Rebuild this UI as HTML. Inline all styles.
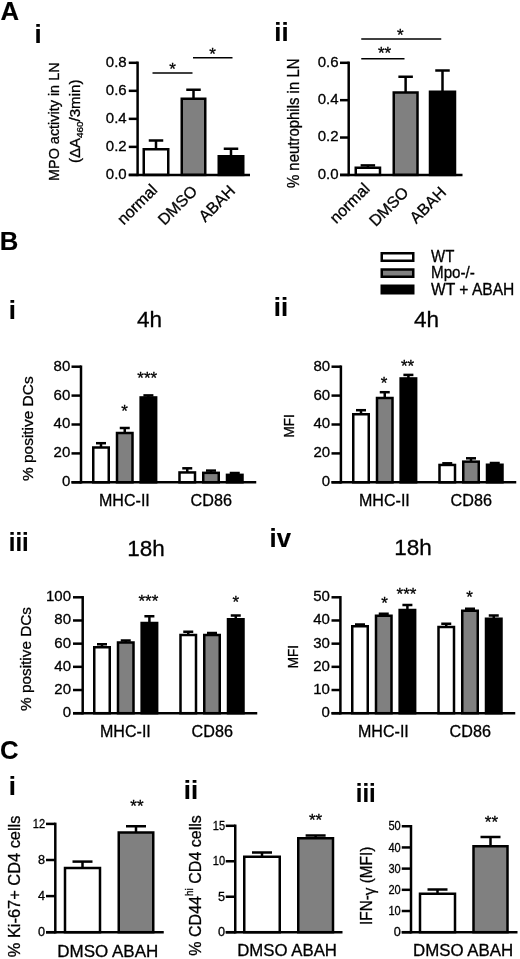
<!DOCTYPE html>
<html><head><meta charset="utf-8"><title>Figure</title>
<style>
html,body{margin:0;padding:0;background:#fff;}
svg{display:block;filter:blur(0.35px);}
text{font-family:"Liberation Sans",Arial,sans-serif;fill:#000;stroke:#000;stroke-width:0.3px;}
text[font-weight=bold]{stroke-width:0.15px;}
</style></head><body>
<svg width="520" height="959" viewBox="0 0 520 959">
<rect x="0" y="0" width="520" height="959" fill="#fff"/>
<text x="0.6" y="19.7" font-size="25.7" font-weight="bold">A</text>
<text x="-0.3" y="249.7" font-size="25.7" font-weight="bold">B</text>
<text x="0.1" y="758.9" font-size="25.7" font-weight="bold">C</text>
<text x="34.6" y="42.5" font-size="25.7" font-weight="bold">i</text>
<line x1="137.6" y1="61.55" x2="137.6" y2="176.15" stroke="#000" stroke-width="2.5"/>
<line x1="128.75" y1="62.8" x2="137.6" y2="62.8" stroke="#000" stroke-width="2.5"/>
<text x="126.7" y="66.7" font-size="15" text-anchor="end">0.8</text>
<line x1="128.75" y1="90.83" x2="137.6" y2="90.83" stroke="#000" stroke-width="2.5"/>
<text x="126.7" y="94.73" font-size="15" text-anchor="end">0.6</text>
<line x1="128.75" y1="118.85" x2="137.6" y2="118.85" stroke="#000" stroke-width="2.5"/>
<text x="126.7" y="122.75" font-size="15" text-anchor="end">0.4</text>
<line x1="128.75" y1="146.88" x2="137.6" y2="146.88" stroke="#000" stroke-width="2.5"/>
<text x="126.7" y="150.78" font-size="15" text-anchor="end">0.2</text>
<line x1="128.75" y1="174.9" x2="137.6" y2="174.9" stroke="#000" stroke-width="2.5"/>
<text x="126.7" y="178.8" font-size="15" text-anchor="end">0.0</text>
<line x1="156" y1="140.5" x2="156" y2="149.25" stroke="#000" stroke-width="2.5"/>
<line x1="148.75" y1="140.5" x2="163.25" y2="140.5" stroke="#000" stroke-width="2.5"/>
<rect x="143.75" y="149.25" width="24.5" height="25.65" fill="#fff" stroke="#000" stroke-width="2.5"/>
<line x1="193.5" y1="89.75" x2="193.5" y2="98.75" stroke="#000" stroke-width="2.5"/>
<line x1="186.25" y1="89.75" x2="200.75" y2="89.75" stroke="#000" stroke-width="2.5"/>
<rect x="181.75" y="98.75" width="23.5" height="76.15" fill="#808080" stroke="#000" stroke-width="2.5"/>
<line x1="231" y1="148.75" x2="231" y2="156.25" stroke="#000" stroke-width="2.5"/>
<line x1="223.75" y1="148.75" x2="238.25" y2="148.75" stroke="#000" stroke-width="2.5"/>
<rect x="218.75" y="156.25" width="24.5" height="18.65" fill="#000" stroke="#000" stroke-width="2.5"/>
<line x1="128.75" y1="174.9" x2="250" y2="174.9" stroke="#000" stroke-width="2.5"/>
<line x1="152.5" y1="73" x2="192.5" y2="73" stroke="#000" stroke-width="1.5"/>
<text x="172.5" y="75.44" font-size="17" text-anchor="middle">*</text>
<line x1="193" y1="57.75" x2="232.5" y2="57.75" stroke="#000" stroke-width="1.5"/>
<text x="212.5" y="60.14" font-size="17" text-anchor="middle">*</text>
<text x="59" y="121.7" font-size="15.4" text-anchor="middle" transform="rotate(-90 59 121.7)" textLength="118.5" lengthAdjust="spacingAndGlyphs">MPO activity in LN</text>
<text x="80.4" y="121.3" font-size="14.6" text-anchor="middle" transform="rotate(-90 80.4 121.3)" textLength="83.5" lengthAdjust="spacingAndGlyphs">(ΔA<tspan font-size="9.5" dy="3">460</tspan><tspan dy="-3">/3min)</tspan></text>
<text x="158.35" y="190.9" font-size="16" text-anchor="end" transform="rotate(-45 158.35 190.9)">normal</text>
<text x="198.35" y="192.15" font-size="16" text-anchor="end" transform="rotate(-45 198.35 192.15)">DMSO</text>
<text x="236.1" y="191.9" font-size="16" text-anchor="end" transform="rotate(-45 236.1 191.9)">ABAH</text>
<text x="274.3" y="41" font-size="25.7" font-weight="bold">ii</text>
<line x1="348.7" y1="61.55" x2="348.7" y2="176.15" stroke="#000" stroke-width="2.5"/>
<line x1="340" y1="62.8" x2="348.7" y2="62.8" stroke="#000" stroke-width="2.5"/>
<text x="338.5" y="66.7" font-size="15" text-anchor="end">0.6</text>
<line x1="340" y1="100.17" x2="348.7" y2="100.17" stroke="#000" stroke-width="2.5"/>
<text x="338.5" y="104.07" font-size="15" text-anchor="end">0.4</text>
<line x1="340" y1="137.53" x2="348.7" y2="137.53" stroke="#000" stroke-width="2.5"/>
<text x="338.5" y="141.43" font-size="15" text-anchor="end">0.2</text>
<line x1="340" y1="174.9" x2="348.7" y2="174.9" stroke="#000" stroke-width="2.5"/>
<text x="338.5" y="178.8" font-size="15" text-anchor="end">0.0</text>
<line x1="367.88" y1="165.4" x2="367.88" y2="167.75" stroke="#000" stroke-width="2.5"/>
<line x1="360.62" y1="165.4" x2="375.12" y2="165.4" stroke="#000" stroke-width="2.5"/>
<rect x="355.75" y="167.75" width="24.25" height="7.15" fill="#fff" stroke="#000" stroke-width="2.5"/>
<line x1="405.62" y1="76.75" x2="405.62" y2="92.5" stroke="#000" stroke-width="2.5"/>
<line x1="398.38" y1="76.75" x2="412.88" y2="76.75" stroke="#000" stroke-width="2.5"/>
<rect x="393.75" y="92.5" width="23.75" height="82.4" fill="#808080" stroke="#000" stroke-width="2.5"/>
<line x1="442.5" y1="70.5" x2="442.5" y2="91.75" stroke="#000" stroke-width="2.5"/>
<line x1="435.25" y1="70.5" x2="449.75" y2="70.5" stroke="#000" stroke-width="2.5"/>
<rect x="430" y="91.75" width="25" height="83.15" fill="#000" stroke="#000" stroke-width="2.5"/>
<line x1="340" y1="174.9" x2="462.5" y2="174.9" stroke="#000" stroke-width="2.5"/>
<line x1="361.25" y1="38.9" x2="441.25" y2="38.9" stroke="#000" stroke-width="1.5"/>
<text x="400.4" y="41.19" font-size="17" text-anchor="middle">*</text>
<line x1="361.25" y1="58.75" x2="404.5" y2="58.75" stroke="#000" stroke-width="1.5"/>
<text x="384.6" y="58.94" font-size="17" text-anchor="middle">**</text>
<text x="299.1" y="123.3" font-size="15.6" text-anchor="middle" transform="rotate(-90 299.1 123.3)" textLength="129.6" lengthAdjust="spacingAndGlyphs">% neutrophils in LN</text>
<text x="370.85" y="189.65" font-size="16" text-anchor="end" transform="rotate(-45 370.85 189.65)">normal</text>
<text x="409.6" y="193.4" font-size="16" text-anchor="end" transform="rotate(-45 409.6 193.4)">DMSO</text>
<text x="447.1" y="193.4" font-size="16" text-anchor="end" transform="rotate(-45 447.1 193.4)">ABAH</text>
<rect x="381.75" y="253.25" width="31.5" height="7.5" fill="#fff" stroke="#000" stroke-width="2.5"/>
<rect x="381.75" y="269.5" width="31.5" height="7.25" fill="#808080" stroke="#000" stroke-width="2.5"/>
<rect x="381.75" y="285.75" width="31.5" height="7.5" fill="#000" stroke="#000" stroke-width="2.5"/>
<text x="431" y="262" font-size="16" textLength="23.3" lengthAdjust="spacingAndGlyphs">WT</text>
<text x="431" y="278" font-size="16" textLength="43.9" lengthAdjust="spacingAndGlyphs">Mpo-/-</text>
<text x="431" y="294.5" font-size="16" textLength="83.4" lengthAdjust="spacingAndGlyphs">WT + ABAH</text>
<line x1="81" y1="365.45" x2="81" y2="483.55" stroke="#000" stroke-width="2.5"/>
<line x1="71.5" y1="366.7" x2="81" y2="366.7" stroke="#000" stroke-width="2.5"/>
<text x="70.3" y="370.6" font-size="15" text-anchor="end">80</text>
<line x1="71.5" y1="395.6" x2="81" y2="395.6" stroke="#000" stroke-width="2.5"/>
<text x="70.3" y="399.5" font-size="15" text-anchor="end">60</text>
<line x1="71.5" y1="424.5" x2="81" y2="424.5" stroke="#000" stroke-width="2.5"/>
<text x="70.3" y="428.4" font-size="15" text-anchor="end">40</text>
<line x1="71.5" y1="453.4" x2="81" y2="453.4" stroke="#000" stroke-width="2.5"/>
<text x="70.3" y="457.3" font-size="15" text-anchor="end">20</text>
<line x1="71.5" y1="482.3" x2="81" y2="482.3" stroke="#000" stroke-width="2.5"/>
<text x="70.3" y="486.2" font-size="15" text-anchor="end">0</text>
<line x1="101" y1="443.2" x2="101" y2="447.5" stroke="#000" stroke-width="2.5"/>
<line x1="96" y1="443.2" x2="106" y2="443.2" stroke="#000" stroke-width="2.5"/>
<rect x="93.25" y="447.5" width="15.5" height="34.8" fill="#fff" stroke="#000" stroke-width="2.5"/>
<line x1="124.75" y1="428" x2="124.75" y2="433" stroke="#000" stroke-width="2.5"/>
<line x1="119.75" y1="428" x2="129.75" y2="428" stroke="#000" stroke-width="2.5"/>
<rect x="117" y="433" width="15.5" height="49.3" fill="#808080" stroke="#000" stroke-width="2.5"/>
<line x1="148.4" y1="395.4" x2="148.4" y2="397.45" stroke="#000" stroke-width="2.5"/>
<line x1="143.4" y1="395.4" x2="153.4" y2="395.4" stroke="#000" stroke-width="2.5"/>
<rect x="140.65" y="397.45" width="15.5" height="84.85" fill="#000" stroke="#000" stroke-width="2.5"/>
<line x1="187.25" y1="468.3" x2="187.25" y2="472.45" stroke="#000" stroke-width="2.5"/>
<line x1="182.25" y1="468.3" x2="192.25" y2="468.3" stroke="#000" stroke-width="2.5"/>
<rect x="179.5" y="472.45" width="15.5" height="9.85" fill="#fff" stroke="#000" stroke-width="2.5"/>
<line x1="211" y1="470.6" x2="211" y2="472.85" stroke="#000" stroke-width="2.5"/>
<line x1="206" y1="470.6" x2="216" y2="470.6" stroke="#000" stroke-width="2.5"/>
<rect x="203.25" y="472.85" width="15.5" height="9.45" fill="#808080" stroke="#000" stroke-width="2.5"/>
<line x1="234.75" y1="473" x2="234.75" y2="474.85" stroke="#000" stroke-width="2.5"/>
<line x1="229.75" y1="473" x2="239.75" y2="473" stroke="#000" stroke-width="2.5"/>
<rect x="227" y="474.85" width="15.5" height="7.45" fill="#000" stroke="#000" stroke-width="2.5"/>
<line x1="71.5" y1="482.3" x2="256.25" y2="482.3" stroke="#000" stroke-width="2.5"/>
<text x="124.6" y="416.84" font-size="17" text-anchor="middle">*</text>
<text x="147.25" y="384.24" font-size="17" text-anchor="middle">***</text>
<text x="124.4" y="506.25" font-size="16" text-anchor="middle" textLength="50.8" lengthAdjust="spacingAndGlyphs">MHC-II</text>
<text x="211.25" y="506.25" font-size="16" text-anchor="middle" textLength="41.3" lengthAdjust="spacingAndGlyphs">CD86</text>
<text x="149.6" y="327.1" font-size="22.5" text-anchor="middle">4h</text>
<text x="8.8" y="319.25" font-size="25.7" font-weight="bold">i</text>
<text x="33.3" y="428.7" font-size="15" text-anchor="middle" transform="rotate(-90 33.3 428.7)" textLength="104.6" lengthAdjust="spacingAndGlyphs">% positive DCs</text>
<line x1="340.9" y1="365.45" x2="340.9" y2="483.55" stroke="#000" stroke-width="2.5"/>
<line x1="331.5" y1="366.7" x2="340.9" y2="366.7" stroke="#000" stroke-width="2.5"/>
<text x="330.1" y="370.6" font-size="15" text-anchor="end">80</text>
<line x1="331.5" y1="395.6" x2="340.9" y2="395.6" stroke="#000" stroke-width="2.5"/>
<text x="330.1" y="399.5" font-size="15" text-anchor="end">60</text>
<line x1="331.5" y1="424.5" x2="340.9" y2="424.5" stroke="#000" stroke-width="2.5"/>
<text x="330.1" y="428.4" font-size="15" text-anchor="end">40</text>
<line x1="331.5" y1="453.4" x2="340.9" y2="453.4" stroke="#000" stroke-width="2.5"/>
<text x="330.1" y="457.3" font-size="15" text-anchor="end">20</text>
<line x1="331.5" y1="482.3" x2="340.9" y2="482.3" stroke="#000" stroke-width="2.5"/>
<text x="330.1" y="486.2" font-size="15" text-anchor="end">0</text>
<line x1="361" y1="410.2" x2="361" y2="414.25" stroke="#000" stroke-width="2.5"/>
<line x1="356" y1="410.2" x2="366" y2="410.2" stroke="#000" stroke-width="2.5"/>
<rect x="353.25" y="414.25" width="15.5" height="68.05" fill="#fff" stroke="#000" stroke-width="2.5"/>
<line x1="384.75" y1="392.2" x2="384.75" y2="398" stroke="#000" stroke-width="2.5"/>
<line x1="379.75" y1="392.2" x2="389.75" y2="392.2" stroke="#000" stroke-width="2.5"/>
<rect x="377" y="398" width="15.5" height="84.3" fill="#808080" stroke="#000" stroke-width="2.5"/>
<line x1="408.4" y1="374.9" x2="408.4" y2="378.45" stroke="#000" stroke-width="2.5"/>
<line x1="403.4" y1="374.9" x2="413.4" y2="374.9" stroke="#000" stroke-width="2.5"/>
<rect x="400.65" y="378.45" width="15.5" height="103.85" fill="#000" stroke="#000" stroke-width="2.5"/>
<line x1="447.25" y1="463.3" x2="447.25" y2="464.95" stroke="#000" stroke-width="2.5"/>
<line x1="442.25" y1="463.3" x2="452.25" y2="463.3" stroke="#000" stroke-width="2.5"/>
<rect x="439.5" y="464.95" width="15.5" height="17.35" fill="#fff" stroke="#000" stroke-width="2.5"/>
<line x1="471" y1="458.3" x2="471" y2="461.65" stroke="#000" stroke-width="2.5"/>
<line x1="466" y1="458.3" x2="476" y2="458.3" stroke="#000" stroke-width="2.5"/>
<rect x="463.25" y="461.65" width="15.5" height="20.65" fill="#808080" stroke="#000" stroke-width="2.5"/>
<line x1="494.75" y1="463" x2="494.75" y2="464.75" stroke="#000" stroke-width="2.5"/>
<line x1="489.75" y1="463" x2="499.75" y2="463" stroke="#000" stroke-width="2.5"/>
<rect x="487" y="464.75" width="15.5" height="17.55" fill="#000" stroke="#000" stroke-width="2.5"/>
<line x1="331.5" y1="482.3" x2="516.25" y2="482.3" stroke="#000" stroke-width="2.5"/>
<text x="384" y="388.84" font-size="17" text-anchor="middle">*</text>
<text x="407.6" y="372.44" font-size="17" text-anchor="middle">**</text>
<text x="384.4" y="506.25" font-size="16" text-anchor="middle" textLength="50.8" lengthAdjust="spacingAndGlyphs">MHC-II</text>
<text x="471.25" y="506.25" font-size="16" text-anchor="middle" textLength="41.3" lengthAdjust="spacingAndGlyphs">CD86</text>
<text x="426.6" y="327.1" font-size="22.5" text-anchor="middle">4h</text>
<text x="273.8" y="316.25" font-size="25.7" font-weight="bold">ii</text>
<text x="293.8" y="425.8" font-size="15" text-anchor="middle" transform="rotate(-90 293.8 425.8)" textLength="23.3" lengthAdjust="spacingAndGlyphs">MFI</text>
<line x1="82.7" y1="596.05" x2="82.7" y2="714.45" stroke="#000" stroke-width="2.5"/>
<line x1="73" y1="597.3" x2="82.7" y2="597.3" stroke="#000" stroke-width="2.5"/>
<text x="71" y="601.2" font-size="15" text-anchor="end">100</text>
<line x1="73" y1="620.48" x2="82.7" y2="620.48" stroke="#000" stroke-width="2.5"/>
<text x="71" y="624.38" font-size="15" text-anchor="end">80</text>
<line x1="73" y1="643.66" x2="82.7" y2="643.66" stroke="#000" stroke-width="2.5"/>
<text x="71" y="647.56" font-size="15" text-anchor="end">60</text>
<line x1="73" y1="666.84" x2="82.7" y2="666.84" stroke="#000" stroke-width="2.5"/>
<text x="71" y="670.74" font-size="15" text-anchor="end">40</text>
<line x1="73" y1="690.02" x2="82.7" y2="690.02" stroke="#000" stroke-width="2.5"/>
<text x="71" y="693.92" font-size="15" text-anchor="end">20</text>
<line x1="73" y1="713.2" x2="82.7" y2="713.2" stroke="#000" stroke-width="2.5"/>
<text x="71" y="717.1" font-size="15" text-anchor="end">0</text>
<line x1="102" y1="644.25" x2="102" y2="647.25" stroke="#000" stroke-width="2.5"/>
<line x1="97" y1="644.25" x2="107" y2="644.25" stroke="#000" stroke-width="2.5"/>
<rect x="94.25" y="647.25" width="15.5" height="65.95" fill="#fff" stroke="#000" stroke-width="2.5"/>
<line x1="125.75" y1="640.5" x2="125.75" y2="642.5" stroke="#000" stroke-width="2.5"/>
<line x1="120.75" y1="640.5" x2="130.75" y2="640.5" stroke="#000" stroke-width="2.5"/>
<rect x="118" y="642.5" width="15.5" height="70.7" fill="#808080" stroke="#000" stroke-width="2.5"/>
<line x1="149.4" y1="616.25" x2="149.4" y2="623" stroke="#000" stroke-width="2.5"/>
<line x1="144.4" y1="616.25" x2="154.4" y2="616.25" stroke="#000" stroke-width="2.5"/>
<rect x="141.65" y="623" width="15.5" height="90.2" fill="#000" stroke="#000" stroke-width="2.5"/>
<line x1="188.25" y1="631.75" x2="188.25" y2="635" stroke="#000" stroke-width="2.5"/>
<line x1="183.25" y1="631.75" x2="193.25" y2="631.75" stroke="#000" stroke-width="2.5"/>
<rect x="180.5" y="635" width="15.5" height="78.2" fill="#fff" stroke="#000" stroke-width="2.5"/>
<line x1="212" y1="633" x2="212" y2="635" stroke="#000" stroke-width="2.5"/>
<line x1="207" y1="633" x2="217" y2="633" stroke="#000" stroke-width="2.5"/>
<rect x="204.25" y="635" width="15.5" height="78.2" fill="#808080" stroke="#000" stroke-width="2.5"/>
<line x1="235.75" y1="615.5" x2="235.75" y2="619.25" stroke="#000" stroke-width="2.5"/>
<line x1="230.75" y1="615.5" x2="240.75" y2="615.5" stroke="#000" stroke-width="2.5"/>
<rect x="228" y="619.25" width="15.5" height="93.95" fill="#000" stroke="#000" stroke-width="2.5"/>
<line x1="73" y1="713.2" x2="257.25" y2="713.2" stroke="#000" stroke-width="2.5"/>
<text x="148.4" y="607.14" font-size="17" text-anchor="middle">***</text>
<text x="235.9" y="608.44" font-size="17" text-anchor="middle">*</text>
<text x="125.4" y="737" font-size="16" text-anchor="middle" textLength="50.8" lengthAdjust="spacingAndGlyphs">MHC-II</text>
<text x="212.25" y="737" font-size="16" text-anchor="middle" textLength="41.3" lengthAdjust="spacingAndGlyphs">CD86</text>
<text x="145.9" y="555.85" font-size="22.5" text-anchor="middle">18h</text>
<text x="8.8" y="550.5" font-size="25.7" font-weight="bold" textLength="20" lengthAdjust="spacingAndGlyphs">iii</text>
<text x="31.2" y="659" font-size="15" text-anchor="middle" transform="rotate(-90 31.2 659)" textLength="104" lengthAdjust="spacingAndGlyphs">% positive DCs</text>
<line x1="340.4" y1="596.05" x2="340.4" y2="714.45" stroke="#000" stroke-width="2.5"/>
<line x1="331.5" y1="597.3" x2="340.4" y2="597.3" stroke="#000" stroke-width="2.5"/>
<text x="329.9" y="601.2" font-size="15" text-anchor="end">50</text>
<line x1="331.5" y1="620.48" x2="340.4" y2="620.48" stroke="#000" stroke-width="2.5"/>
<text x="329.9" y="624.38" font-size="15" text-anchor="end">40</text>
<line x1="331.5" y1="643.66" x2="340.4" y2="643.66" stroke="#000" stroke-width="2.5"/>
<text x="329.9" y="647.56" font-size="15" text-anchor="end">30</text>
<line x1="331.5" y1="666.84" x2="340.4" y2="666.84" stroke="#000" stroke-width="2.5"/>
<text x="329.9" y="670.74" font-size="15" text-anchor="end">20</text>
<line x1="331.5" y1="690.02" x2="340.4" y2="690.02" stroke="#000" stroke-width="2.5"/>
<text x="329.9" y="693.92" font-size="15" text-anchor="end">10</text>
<line x1="331.5" y1="713.2" x2="340.4" y2="713.2" stroke="#000" stroke-width="2.5"/>
<text x="329.9" y="717.1" font-size="15" text-anchor="end">0</text>
<line x1="360" y1="624.5" x2="360" y2="626.25" stroke="#000" stroke-width="2.5"/>
<line x1="355" y1="624.5" x2="365" y2="624.5" stroke="#000" stroke-width="2.5"/>
<rect x="352.25" y="626.25" width="15.5" height="86.95" fill="#fff" stroke="#000" stroke-width="2.5"/>
<line x1="383.75" y1="613.75" x2="383.75" y2="615.75" stroke="#000" stroke-width="2.5"/>
<line x1="378.75" y1="613.75" x2="388.75" y2="613.75" stroke="#000" stroke-width="2.5"/>
<rect x="376" y="615.75" width="15.5" height="97.45" fill="#808080" stroke="#000" stroke-width="2.5"/>
<line x1="407.4" y1="605" x2="407.4" y2="610" stroke="#000" stroke-width="2.5"/>
<line x1="402.4" y1="605" x2="412.4" y2="605" stroke="#000" stroke-width="2.5"/>
<rect x="399.65" y="610" width="15.5" height="103.2" fill="#000" stroke="#000" stroke-width="2.5"/>
<line x1="446.25" y1="623.75" x2="446.25" y2="627" stroke="#000" stroke-width="2.5"/>
<line x1="441.25" y1="623.75" x2="451.25" y2="623.75" stroke="#000" stroke-width="2.5"/>
<rect x="438.5" y="627" width="15.5" height="86.2" fill="#fff" stroke="#000" stroke-width="2.5"/>
<line x1="470" y1="608.75" x2="470" y2="610.75" stroke="#000" stroke-width="2.5"/>
<line x1="465" y1="608.75" x2="475" y2="608.75" stroke="#000" stroke-width="2.5"/>
<rect x="462.25" y="610.75" width="15.5" height="102.45" fill="#808080" stroke="#000" stroke-width="2.5"/>
<line x1="493.75" y1="615.5" x2="493.75" y2="618.75" stroke="#000" stroke-width="2.5"/>
<line x1="488.75" y1="615.5" x2="498.75" y2="615.5" stroke="#000" stroke-width="2.5"/>
<rect x="486" y="618.75" width="15.5" height="94.45" fill="#000" stroke="#000" stroke-width="2.5"/>
<line x1="331.5" y1="713.2" x2="515.25" y2="713.2" stroke="#000" stroke-width="2.5"/>
<text x="384.6" y="609.24" font-size="17" text-anchor="middle">*</text>
<text x="406.5" y="600.34" font-size="17" text-anchor="middle">***</text>
<text x="469.6" y="603.44" font-size="17" text-anchor="middle">*</text>
<text x="383.4" y="737" font-size="16" text-anchor="middle" textLength="50.8" lengthAdjust="spacingAndGlyphs">MHC-II</text>
<text x="470.25" y="737" font-size="16" text-anchor="middle" textLength="41.3" lengthAdjust="spacingAndGlyphs">CD86</text>
<text x="413.1" y="554.6" font-size="22.5" text-anchor="middle">18h</text>
<text x="269.5" y="547" font-size="25.7" font-weight="bold">iv</text>
<text x="297.7" y="656.7" font-size="15" text-anchor="middle" transform="rotate(-90 297.7 656.7)" textLength="23.3" lengthAdjust="spacingAndGlyphs">MFI</text>
<line x1="55.3" y1="822.65" x2="55.3" y2="933.45" stroke="#000" stroke-width="2.5"/>
<line x1="46" y1="823.9" x2="55.3" y2="823.9" stroke="#000" stroke-width="2.5"/>
<text x="45.1" y="828.1" font-size="12.7" text-anchor="end" textLength="12.3" lengthAdjust="spacingAndGlyphs">12</text>
<line x1="46" y1="860" x2="55.3" y2="860" stroke="#000" stroke-width="2.5"/>
<text x="45.1" y="864.2" font-size="12.7" text-anchor="end">8</text>
<line x1="46" y1="896.1" x2="55.3" y2="896.1" stroke="#000" stroke-width="2.5"/>
<text x="45.1" y="900.3" font-size="12.7" text-anchor="end">4</text>
<line x1="46" y1="932.2" x2="55.3" y2="932.2" stroke="#000" stroke-width="2.5"/>
<text x="45.1" y="936.4" font-size="12.7" text-anchor="end">0</text>
<line x1="82.5" y1="861.6" x2="82.5" y2="868" stroke="#000" stroke-width="2.5"/>
<line x1="72.5" y1="861.6" x2="92.5" y2="861.6" stroke="#000" stroke-width="2.5"/>
<rect x="65" y="868" width="35" height="64.2" fill="#fff" stroke="#000" stroke-width="2.5"/>
<line x1="136" y1="826.25" x2="136" y2="832.5" stroke="#000" stroke-width="2.5"/>
<line x1="126" y1="826.25" x2="146" y2="826.25" stroke="#000" stroke-width="2.5"/>
<rect x="118.75" y="832.5" width="34.5" height="99.7" fill="#808080" stroke="#000" stroke-width="2.5"/>
<line x1="46" y1="932.2" x2="163.75" y2="932.2" stroke="#000" stroke-width="2.5"/>
<text x="136.9" y="812.34" font-size="17" text-anchor="middle">**</text>
<text x="8.8" y="794.5" font-size="25.7" font-weight="bold">i</text>
<text x="20.4" y="886.4" font-size="16.3" text-anchor="middle" transform="rotate(-90 20.4 886.4)" textLength="141.7" lengthAdjust="spacingAndGlyphs">% Ki-67+ CD4 cells</text>
<text x="107.75" y="956.5" font-size="16.5" text-anchor="middle" textLength="101" lengthAdjust="spacingAndGlyphs">DMSO ABAH</text>
<line x1="235.25" y1="824.55" x2="235.25" y2="933.45" stroke="#000" stroke-width="2.5"/>
<line x1="225.75" y1="825.8" x2="235.25" y2="825.8" stroke="#000" stroke-width="2.5"/>
<text x="225.1" y="830" font-size="12.7" text-anchor="end" textLength="12.3" lengthAdjust="spacingAndGlyphs">15</text>
<line x1="225.75" y1="861.27" x2="235.25" y2="861.27" stroke="#000" stroke-width="2.5"/>
<text x="225.1" y="865.47" font-size="12.7" text-anchor="end" textLength="12.3" lengthAdjust="spacingAndGlyphs">10</text>
<line x1="225.75" y1="896.73" x2="235.25" y2="896.73" stroke="#000" stroke-width="2.5"/>
<text x="225.1" y="900.93" font-size="12.7" text-anchor="end">5</text>
<line x1="225.75" y1="932.2" x2="235.25" y2="932.2" stroke="#000" stroke-width="2.5"/>
<text x="225.1" y="936.4" font-size="12.7" text-anchor="end">0</text>
<line x1="262" y1="852.5" x2="262" y2="856.75" stroke="#000" stroke-width="2.5"/>
<line x1="252" y1="852.5" x2="272" y2="852.5" stroke="#000" stroke-width="2.5"/>
<rect x="244.25" y="856.75" width="35.5" height="75.45" fill="#fff" stroke="#000" stroke-width="2.5"/>
<line x1="315.62" y1="835.5" x2="315.62" y2="838.25" stroke="#000" stroke-width="2.5"/>
<line x1="305.62" y1="835.5" x2="325.62" y2="835.5" stroke="#000" stroke-width="2.5"/>
<rect x="298.25" y="838.25" width="34.75" height="93.95" fill="#808080" stroke="#000" stroke-width="2.5"/>
<line x1="225.75" y1="932.2" x2="342.5" y2="932.2" stroke="#000" stroke-width="2.5"/>
<text x="315.6" y="826.04" font-size="17" text-anchor="middle">**</text>
<text x="183.8" y="798.75" font-size="25.7" font-weight="bold">ii</text>
<text x="200.7" y="885.4" font-size="16.3" text-anchor="middle" transform="rotate(-90 200.7 885.4)" textLength="140.6" lengthAdjust="spacingAndGlyphs">% CD44<tspan font-size="10" dy="-7.8">hi</tspan><tspan dy="7.8"> CD4 cells</tspan></text>
<text x="287.12" y="956" font-size="16.5" text-anchor="middle" textLength="99.75" lengthAdjust="spacingAndGlyphs">DMSO ABAH</text>
<line x1="411" y1="825" x2="411" y2="933.45" stroke="#000" stroke-width="2.5"/>
<line x1="401.75" y1="826.25" x2="411" y2="826.25" stroke="#000" stroke-width="2.5"/>
<text x="400.7" y="830.45" font-size="12.7" text-anchor="end" textLength="12.3" lengthAdjust="spacingAndGlyphs">50</text>
<line x1="401.75" y1="847.44" x2="411" y2="847.44" stroke="#000" stroke-width="2.5"/>
<text x="400.7" y="851.64" font-size="12.7" text-anchor="end" textLength="12.3" lengthAdjust="spacingAndGlyphs">40</text>
<line x1="401.75" y1="868.63" x2="411" y2="868.63" stroke="#000" stroke-width="2.5"/>
<text x="400.7" y="872.83" font-size="12.7" text-anchor="end" textLength="12.3" lengthAdjust="spacingAndGlyphs">30</text>
<line x1="401.75" y1="889.82" x2="411" y2="889.82" stroke="#000" stroke-width="2.5"/>
<text x="400.7" y="894.02" font-size="12.7" text-anchor="end" textLength="12.3" lengthAdjust="spacingAndGlyphs">20</text>
<line x1="401.75" y1="911.01" x2="411" y2="911.01" stroke="#000" stroke-width="2.5"/>
<text x="400.7" y="915.21" font-size="12.7" text-anchor="end" textLength="12.3" lengthAdjust="spacingAndGlyphs">10</text>
<line x1="401.75" y1="932.2" x2="411" y2="932.2" stroke="#000" stroke-width="2.5"/>
<text x="400.7" y="936.4" font-size="12.7" text-anchor="end">0</text>
<line x1="437.5" y1="889.5" x2="437.5" y2="893.75" stroke="#000" stroke-width="2.5"/>
<line x1="427.5" y1="889.5" x2="447.5" y2="889.5" stroke="#000" stroke-width="2.5"/>
<rect x="420" y="893.75" width="35" height="38.45" fill="#fff" stroke="#000" stroke-width="2.5"/>
<line x1="490.5" y1="837" x2="490.5" y2="846.25" stroke="#000" stroke-width="2.5"/>
<line x1="480.5" y1="837" x2="500.5" y2="837" stroke="#000" stroke-width="2.5"/>
<rect x="473.5" y="846.25" width="34" height="85.95" fill="#808080" stroke="#000" stroke-width="2.5"/>
<line x1="401.75" y1="932.2" x2="517.5" y2="932.2" stroke="#000" stroke-width="2.5"/>
<text x="491.4" y="827.94" font-size="17" text-anchor="middle">**</text>
<text x="355.8" y="802" font-size="25.7" font-weight="bold" textLength="20" lengthAdjust="spacingAndGlyphs">iii</text>
<text x="372.3" y="885.8" font-size="16.3" text-anchor="middle" transform="rotate(-90 372.3 885.8)" textLength="78.3" lengthAdjust="spacingAndGlyphs">IFN-<tspan dy="3">γ</tspan><tspan dy="-3"> (MFI)</tspan></text>
<text x="463.12" y="956" font-size="16.5" text-anchor="middle" textLength="100.25" lengthAdjust="spacingAndGlyphs">DMSO ABAH</text>
</svg>
</body></html>
